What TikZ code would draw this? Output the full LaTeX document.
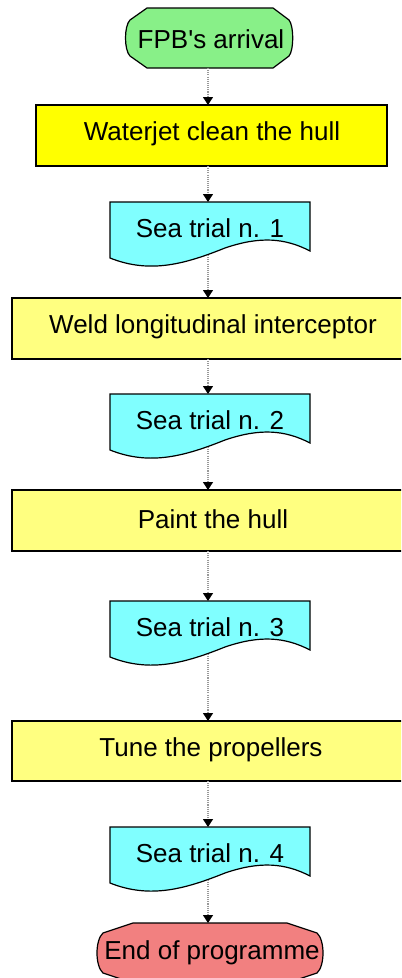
\documentclass[tikz,border=0pt]{standalone}
\usepackage{fontspec}
\setmainfont[Ligatures=TeXOff]{Liberation Sans}
\usetikzlibrary{arrows.meta}
\definecolor{termgreen}{HTML}{88F088}
\definecolor{termred}{HTML}{F28080}
\definecolor{brightyellow}{HTML}{FFFF00}
\definecolor{paleyellow}{HTML}{FFFF80}
\definecolor{cyanfill}{HTML}{80FFFF}
\definecolor{dotgray}{HTML}{999999}
\newcommand{\seadoc}[3]{%
  \draw[shapeline, fill=cyanfill] (#1,#2) -- (#1+200,#2) -- (#1+200,#2+49)
    .. controls (#1+175,#2+36) and (#1+150,#2+34) .. (#1+115,#2+46)
    .. controls (#1+75,#2+62) and (#1+40,#2+72) .. (#1,#2+56) -- cycle;
  \coordinate (#3top) at (#1+98,#2);
  \coordinate (#3bot) at (#1+98,#2+53);
}
\newcommand{\procbox}[5]{% x1, y1, x2, y2, fill
  \draw[shapeline, fill=#5] (#1,#2) rectangle (#3,#4);
}
\begin{document}
\begin{tikzpicture}[x=0.75pt,y=-0.75pt,
  shapeline/.style={draw=black, line width=0.9pt, line join=miter},
  lbl/.style={font=\fontsize{19.5}{22}\selectfont, inner sep=0pt, anchor=center, text=black},
  conn/.style={draw=dotgray, line width=0.9pt, dash pattern=on 0.8pt off 0.8pt,
    -{Triangle[width=7.5pt,length=6pt,color=black]}}]
\useasboundingbox (0,0) rectangle (401,978);
\fill[white] (0,0) rectangle (401,978);
\clip (0,0) rectangle (401,978);

% start terminal
\draw[shapeline, fill=termgreen] (147,8) -- (273,8) -- (289,20)
  .. controls (294,26) and (294,50) .. (289,56) -- (273,68) -- (147,68) -- (130,56)
  .. controls (124,50) and (124,26) .. (130,20) -- cycle;
\coordinate (fpbbot) at (208,68);
\node[lbl] (fpb) at (211,39) {FPB's arrival};

% waterjet
\procbox{36}{105}{387}{166}{brightyellow}
\coordinate (wjtop) at (208,105);
\coordinate (wjbot) at (208,166);
\node[lbl] (wj) at (212,134) {Waterjet clean the hull};

% sea trial 1
\seadoc{110}{202}{sa}
\node[lbl] (s1) at (210,228) {Sea trial n. 1};

% weld
\procbox{12}{298}{410}{359}{paleyellow}
\coordinate (wdtop) at (208,298);
\coordinate (wdbot) at (208,359);
\node[lbl] (wd) at (213,327) {Weld longitudinal interceptor};

% sea trial 2
\seadoc{110}{394}{sb}
\node[lbl] (s2) at (210,420) {Sea trial n. 2};

% paint
\procbox{12}{490}{410}{551}{paleyellow}
\coordinate (ptop) at (208,490);
\coordinate (pbot) at (208,551);
\node[lbl] (pt) at (213,519) {Paint the hull};

% sea trial 3
\seadoc{110}{601}{sc}
\node[lbl] (s3) at (210,627) {Sea trial n. 3};

% tune
\procbox{12}{721}{410}{781}{paleyellow}
\coordinate (ttop) at (208,721);
\coordinate (tbot) at (208,781);
\node[lbl] (tn) at (211,750) {Tune the propellers};

% sea trial 4
\seadoc{110}{827}{sd}
\node[lbl] (s4) at (210,853) {Sea trial n. 4};

% end terminal
\draw[shapeline, fill=termred] (133,923) -- (287,923) -- (317,933)
  .. controls (325,940) and (325,966) .. (317,973) -- (287,983) -- (133,983) -- (103,973)
  .. controls (95,966) and (95,940) .. (103,933) -- cycle;
\coordinate (endtop) at (208,923);
\node[lbl] (en) at (212,953) {End of programme};

% connectors
\draw[conn] (fpbbot) -- (wjtop);
\draw[conn] (wjbot) -- (satop);
\draw[conn] (sabot) -- (wdtop);
\draw[conn] (wdbot) -- (sbtop);
\draw[conn] (sbbot) -- (ptop);
\draw[conn] (pbot) -- (sctop);
\draw[conn] (scbot) -- (ttop);
\draw[conn] (tbot) -- (sdtop);
\draw[conn] (sdbot) -- (endtop);
\end{tikzpicture}
\end{document}
